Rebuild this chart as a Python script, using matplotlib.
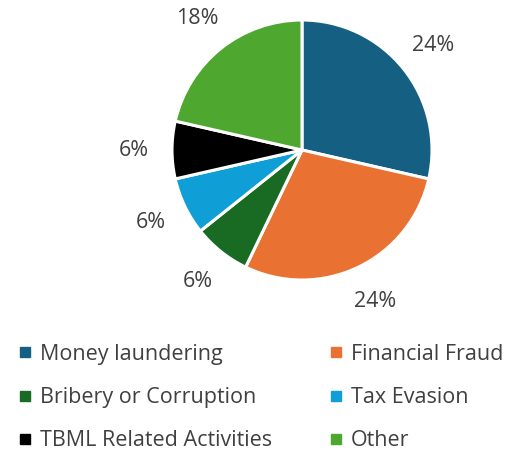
import matplotlib
matplotlib.use("Agg")
import matplotlib.pyplot as plt
from matplotlib.lines import Line2D
import numpy as np

categories = ["Money laundering", "Financial Fraud", "Bribery or Corruption",
              "Tax Evasion", "TBML Related Activities", "Other"]
values = [24, 24, 6, 6, 6, 18]
labels = ["24%", "24%", "6%", "6%", "6%", "18%"]
colors = ["#156082", "#E97132", "#196B24", "#0F9ED5", "#000000", "#4EA72E"]

plt.rcParams['font.family'] = ['Open Sans', 'DejaVu Sans']
text_color = "#404040"

fig = plt.figure(figsize=(5.12, 4.51), dpi=100)
r_px = 130
cx, cy = 302, 150
ax = fig.add_axes([(cx - r_px) / 512, 1 - (cy + r_px) / 451, 2 * r_px / 512, 2 * r_px / 451])
wedges, _ = ax.pie(values, colors=colors, startangle=90, counterclock=False,
                   radius=1.0, wedgeprops=dict(edgecolor="white", linewidth=2.2))
total = sum(values)
ang = 90.0
for v, lab in zip(values, labels):
    sweep = v / total * 360
    mid = np.deg2rad(ang - sweep / 2)
    ang -= sweep
    ax.text(1.29 * np.cos(mid), 1.29 * np.sin(mid), lab, ha="center", va="center",
            fontsize=15.5, color=text_color)
ax.set_xlim(-1, 1)
ax.set_ylim(-1, 1)
ax.set_aspect("equal")
ax.axis("off")

handles = [Line2D([0], [0], marker="s", linestyle="none", markersize=6.5,
                  markerfacecolor=c, markeredgecolor=c) for c in colors]
# matplotlib fills legend columns first; reorder so rows read left-to-right
order = [0, 2, 4, 1, 3, 5]
leg = fig.legend([handles[i] for i in order], [categories[i] for i in order],
                 ncol=2, loc="upper left",
                 bbox_to_anchor=(20 / 512, 1 - 344 / 451), frameon=False,
                 fontsize=15.5, handlelength=0.5, handletextpad=0.45,
                 columnspacing=2.7, labelspacing=1.03, borderaxespad=0, borderpad=0,
                 labelcolor=text_color)
fig.savefig("out.png", dpi=100)
